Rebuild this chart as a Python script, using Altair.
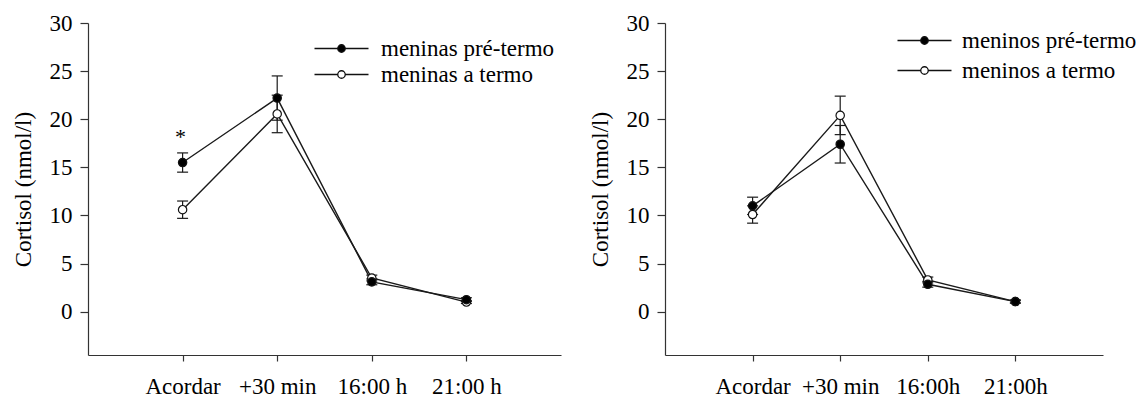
import altair as alt
import pandas as pd

# ---------------- data ----------------
tempos_f = ["Acordar", "+30 min", "16:00 h", "21:00 h"]
tempos_m = ["Acordar", "+30 min", "16:00h", "21:00h"]

series_f = ["meninas pré-termo", "meninas a termo"]
series_m = ["meninos pré-termo", "meninos a termo"]

f_pre = [15.5, 22.2, 3.1, 1.25]
f_pre_err = [1.0, 2.3, 0.3, 0.2]
f_ter = [10.6, 20.55, 3.5, 1.0]
f_ter_err = [0.9, 1.95, 0.3, 0.15]

m_pre = [11.0, 17.4, 2.85, 1.05]
m_pre_err = [0.9, 1.95, 0.3, 0.15]
m_ter = [10.1, 20.4, 3.3, 1.05]
m_ter_err = [0.9, 2.0, 0.3, 0.15]

y_ticks = [0, 5, 10, 15, 20, 25, 30]
y_title = "Cortisol (nmol/l)"

star_tempo = ["Acordar"]
star_y = [18.2]
star_text = ["*"]

FONT = "Liberation Serif"
INK = "#1a1a1a"
LEG_PATH = ("M-5.4,0H-0.75M0.75,0H5.4"
            "M-0.75,0A0.75,0.75,0,1,0,0.75,0A0.75,0.75,0,1,0,-0.75,0Z")


def panel(tempos, series, pre, pre_err, ter, ter_err, width,
          leg_x, leg_y, leg_rowpad, leg_off, star=None):
    rows = []
    for s, vals, errs in [(series[1], ter, ter_err), (series[0], pre, pre_err)]:
        for i, (t, v, e) in enumerate(zip(tempos, vals, errs)):
            rows.append({"tempo": t, "idx": i, "grupo": s, "valor": v, "erro": e})
    df = pd.DataFrame(rows)
    base = alt.Chart(df).transform_calculate(
        lo="datum.valor - datum.erro", hi="datum.valor + datum.erro"
    )
    xs = alt.Scale(type="point", padding=1)
    xa = alt.Axis(title=None, labelAngle=0, tickSize=6, labelPadding=14)
    x = alt.X("tempo:N", sort=tempos, scale=xs, axis=xa)
    ys = alt.Scale(domain=[-4.5, 30], nice=False, zero=False)
    ya = alt.Axis(values=y_ticks, title=y_title, tickSize=8, labelPadding=8,
                  titlePadding=14)

    line = base.mark_line(color=INK, strokeWidth=1.4).encode(
        x=x, y=alt.Y("valor:Q", scale=ys, axis=ya),
        detail="grupo:N", order="idx:Q")
    bars = base.mark_rule(color=INK, strokeWidth=1.2).encode(
        x=x, y=alt.Y("lo:Q", scale=ys, axis=ya), y2="hi:Q")
    cap_lo = base.mark_tick(orient="horizontal", size=11, thickness=1.2,
                            color=INK, opacity=1).encode(
        x=x, y=alt.Y("lo:Q", scale=ys, axis=ya))
    cap_hi = base.mark_tick(orient="horizontal", size=11, thickness=1.2,
                            color=INK, opacity=1).encode(
        x=x, y=alt.Y("hi:Q", scale=ys, axis=ya))
    pts = base.mark_point(filled=True, shape="circle", size=70, stroke="#111",
                          strokeWidth=1.2, opacity=1).encode(
        x=x, y=alt.Y("valor:Q", scale=ys, axis=ya),
        fill=alt.Fill("grupo:N",
                      scale=alt.Scale(domain=series, range=["#000000", "#ffffff"]),
                      legend=alt.Legend(title=None, orient="none",
                                        legendX=leg_x, legendY=leg_y,
                                        symbolType=LEG_PATH, symbolSize=100,
                                        symbolStrokeColor="#111",
                                        symbolStrokeWidth=1.3,
                                        labelOffset=leg_off,
                                        rowPadding=leg_rowpad, padding=0,
                                        labelLimit=400)))
    layers = [line, bars, cap_lo, cap_hi, pts]
    if star is not None:
        sdf = pd.DataFrame({"tempo": star[0], "valor": star[1], "txt": star[2]})
        txt = alt.Chart(sdf).mark_text(font=FONT, fontSize=22, dx=-2,
                                       color="#000").encode(
            x=x, y=alt.Y("valor:Q", scale=ys, axis=ya), text="txt:N")
        layers.append(txt)
    return alt.layer(*layers).properties(width=width, height=332)


left = panel(tempos_f, series_f, f_pre, f_pre_err, f_ter, f_ter_err, 473,
             242, 14, 2, 28, star=(star_tempo, star_y, star_text))
right = panel(tempos_m, series_m, m_pre, m_pre_err, m_ter, m_ter_err, 438,
              248, 6, 6, 26)

chart = alt.hconcat(left, right, spacing=28).resolve_scale(
    x="independent", y="independent", fill="independent"
).resolve_legend(fill="independent").properties(
    padding={"left": 12, "top": 12, "right": 0, "bottom": 0},
    background="white",
).configure_view(stroke=None).configure_axis(
    labelFont=FONT, labelFontSize=23, labelColor="#000",
    titleFont=FONT, titleFontSize=23, titleFontWeight="normal",
    titleColor="#000", domainColor="#333", tickColor="#333",
    domainWidth=1.2, tickWidth=1.2, grid=False,
).configure_legend(
    labelFont=FONT, labelFontSize=23, labelColor="#000",
).configure_text(font=FONT)

chart.save("out.html", embed_options={"renderer": "svg", "actions": False})
